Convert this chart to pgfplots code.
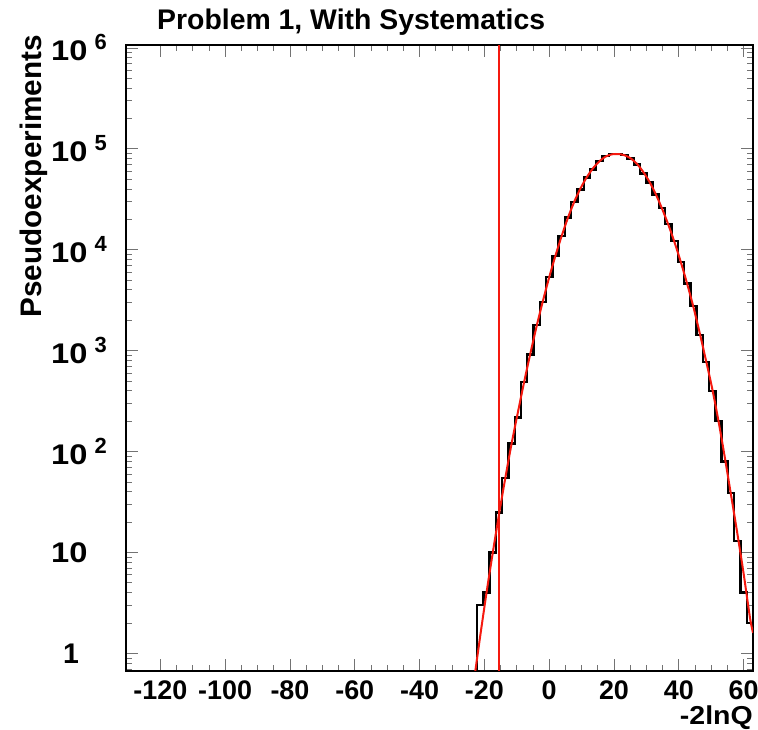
\documentclass[border=0pt]{standalone}
\usepackage{fontspec}
\setmainfont{Liberation Sans}
\usepackage{pgfplots}
\pgfplotsset{compat=1.18}
\definecolor{fitred}{RGB}{245,25,15}
\newcommand{\pw}[1]{\scalebox{1.15}[1]{10}\hspace{7bp}\raisebox{11bp}{\fontsize{22}{22}\selectfont\bfseries #1}}
\newcommand{\lblfont}{\fontsize{28.5}{30}\selectfont\bfseries}
\newcommand{\tckfont}{\fontsize{27}{28}\selectfont\bfseries}

\begin{document}
\begin{tikzpicture}
\begin{axis}[
  scale only axis, width=627bp, height=626bp,
  xmin=-130.6, xmax=62.9,
  ymode=log, ymin=0.67, ymax=1.07e6,
  xtick={-120,-100,-80,-60,-40,-20,0,20,40,60},
  xticklabels={-120,-100,-80,-60,-40,-20,0,20,40,60},
  minor x tick num=3,
  ytick={1,10,100,1000,10000,100000,1000000},
  yticklabels={\hspace{12bp}1,\scalebox{1.15}[1]{10},\pw{2},\pw{3},\pw{4},\pw{5},\pw{6}},
  minor ytick={0.7,0.8,0.9,2,3,4,5,6,7,8,9,20,30,40,50,60,70,80,90,
    200,300,400,500,600,700,800,900,2000,3000,4000,5000,6000,7000,8000,9000,
    20000,30000,40000,50000,60000,70000,80000,90000,
    200000,300000,400000,500000,600000,700000,800000,900000},
  tick align=inside, tick pos=both, ticklabel pos=left,
  major tick length=12bp, minor tick length=6.5bp,
  tick style={black!55, line width=0.9bp},
  axis line style={black, line width=1.6bp},
  xticklabel style={font=\tckfont, inner sep=0pt, anchor=north, yshift=-10bp},
  yticklabel style={font=\lblfont, inner sep=0pt, anchor=west, xshift=-75bp},
]
% histogram, bin width 1.935, left edges
\addplot[const plot mark left, black, line width=2.4bp, line join=miter] coordinates {
  (-24,0.1) (-22.24,3) (-20.305,4) (-18.37,10) (-16.435,25) (-14.5,55)
  (-12.565,120) (-10.63,218) (-8.695,492) (-6.76,918) (-4.825,1795)
  (-2.89,3055) (-0.955,5400) (0.98,8730) (2.915,13770) (4.85,20940)
  (6.785,29900) (8.72,39720) (10.655,52240) (12.59,62700) (14.525,76300)
  (16.46,84900) (18.395,88500) (20.33,89000) (22.265,86900) (24.2,80500)
  (26.135,70200) (28.07,57150) (30.005,46560) (31.94,35400) (33.875,26080)
  (35.81,17980) (37.745,12190) (39.68,7600) (41.615,4645) (43.55,2768)
  (45.485,1429) (47.42,776) (49.355,398) (51.29,202) (53.225,80)
  (55.16,39) (57.095,13) (59.03,4) (60.965,2) (62.9,2)
};
% fit curve
\addplot[fitred, line width=2bp, smooth] coordinates {
  (-23.2,0.54) (-21.27,1.5) (-19.34,4.0) (-17.40,10) (-15.47,24) (-13.53,55)
  (-11.60,120) (-9.66,245) (-7.73,490) (-5.79,944) (-3.86,1758)
  (-1.92,3126) (0.01,5346) (1.95,8770) (3.88,13800) (5.82,20900)
  (7.75,30000) (9.69,40700) (11.62,52500) (13.56,64400) (15.49,75300)
  (17.43,83900) (19.36,88300) (21.30,88900) (23.23,86500) (25.17,80500)
  (27.10,71000) (29.04,59000) (30.97,47000) (32.91,35500) (34.84,25500)
  (36.78,17700) (38.71,11800) (40.65,7500) (42.58,4600) (44.52,2700)
  (46.45,1500) (48.39,800) (50.32,420) (52.26,200) (54.19,88)
  (56.13,37) (58.06,15.5) (60.0,6.2) (61.93,2.3) (62.9,1.6)
};
% cut line
\addplot[fitred, line width=2.4bp] coordinates {(-15.5,0.67) (-15.5,1.07e6)};
\end{axis}
\path (current axis.north west) ++(31bp,15bp)
  node[anchor=base west, inner sep=0pt, font=\lblfont] {Problem 1, With Systematics};
\path (current axis.north west) ++(-84bp,10bp)
  node[rotate=90, anchor=base east, inner sep=0pt, font=\fontsize{29.8}{31}\selectfont\bfseries] {Pseudoexperiments};
\path (current axis.south east) ++(0bp,-53bp)
  node[anchor=base east, inner sep=0pt, xscale=1.1, font=\fontsize{26}{27}\selectfont\bfseries] {-2lnQ};
\pgfresetboundingbox
\path[use as bounding box] (current axis.south west) ++(-126bp,-59bp) rectangle ++(758bp,730bp);
\end{tikzpicture}
\end{document}
